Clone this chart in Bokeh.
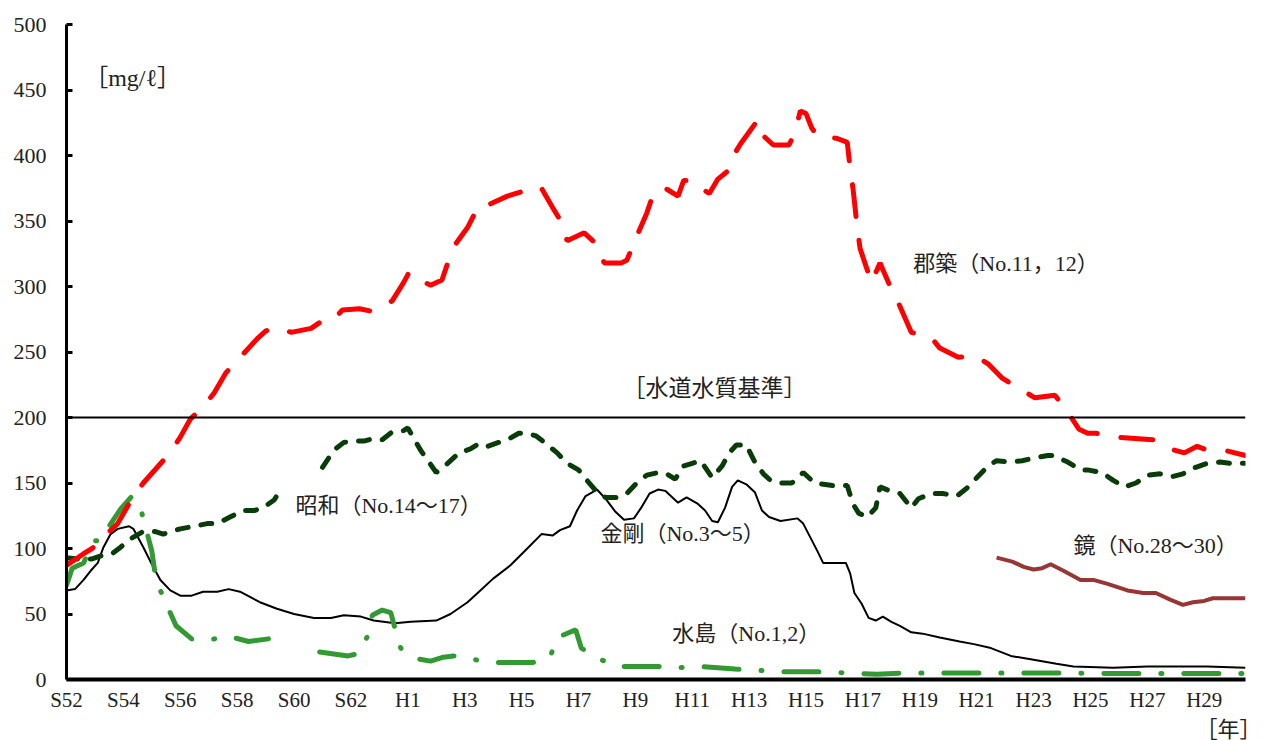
import math
from bokeh.plotting import figure
from bokeh.models import Span, Label, FixedTicker, Range1d, Title
from bokeh.embed import file_html
from bokeh.resources import INLINE

NAN = float("nan")

# x = years since S52 (1977)
x_ticks = list(range(0, 41, 2))
x_tick_labels = ["S52", "S54", "S56", "S58", "S60", "S62", "H1", "H3", "H5", "H7",
                 "H9", "H11", "H13", "H15", "H17", "H19", "H21", "H23", "H25", "H27", "H29"]
y_ticks = list(range(0, 501, 50))
standard_value = 200

# 郡築 (No.11, 12)
gunchiku = [(0, 87), (0.6, 96), (0.9, 100), (1.1, 104), (1.35, 110), (1.8, 119), (2.3, 138),
            (2.7, 150), (3.6, 172), (4.0, 185), (4.36, 199), (4.8, 208), (5.2, 219), (5.6, 234),
            (6.7, 260), (7.0, 266), (7.35, 269), (7.9, 265), (8.6, 268), (9.0, 274), (9.35, 274),
            (9.7, 282), (10.3, 283), (10.75, 281), (11.0, 284), (11.45, 289), (11.85, 303),
            (12.05, 311), (12.4, 305), (12.8, 301), (13.2, 305), (13.5, 324), (13.7, 333),
            (14.1, 345), (14.5, 362), (14.9, 363), (15.5, 369), (16.1, 373), (16.5, 372),
            (16.7, 375), (17.1, 360), (17.4, 349), (17.6, 335), (18.2, 341), (18.7, 331),
            (18.9, 318), (19.5, 318), (19.7, 320), (20.1, 341), (20.4, 356), (20.65, 372),
            (21.05, 375), (21.5, 369), (21.7, 381), (22.0, 381), (22.3, 375), (22.6, 371),
            (22.9, 382), (23.3, 389), (23.45, 400), (23.7, 409), (24.0, 418), (24.3, 427),
            (24.5, 415), (24.85, 408), (25.4, 408), (25.6, 417), (25.8, 434), (26.0, 432),
            (26.2, 421), (26.4, 415), (27.1, 413), (27.45, 410), (27.55, 390), (27.65, 375),
            (27.8, 345), (27.9, 329), (28.3, 303), (28.6, 318), (29.0, 298), (29.3, 285),
            (29.7, 265), (30.4, 261), (30.7, 253), (31.35, 246), (31.95, 247), (32.4, 241),
            (32.9, 230), (33.5, 222), (34.05, 215), (34.75, 217), (35.2, 204), (35.6, 191),
            (35.9, 188), (36.2, 188), (36.9, 185), (38.2, 183), (38.8, 176), (39.3, 173),
            (39.75, 178), (40.0, 176), (40.7, 175), (41.45, 171)]

# 昭和 (No.14～17)
showa = [(0, 93), (0.4, 92), (0.9, 92), (1.3, 95), (1.6, 96), (1.9, 101), (2.3, 108), (2.7, 113),
         (3.1, 113), (3.4, 111), (4.0, 115), (4.5, 117), (4.95, 119), (5.3, 119), (5.75, 124),
         (6.2, 129), (6.6, 129), (6.9, 131), (7.3, 137), (7.5, 144), (8.2, NAN),
         (9.0, 162), (9.4, 175), (9.75, 181), (10.1, 182), (10.45, 182), (10.8, 184), (11.1, 183),
         (11.45, 189), (11.85, 190), (12.0, 192), (12.45, 175), (13.0, 158), (13.25, 162),
         (13.8, 173), (14.2, 176), (14.5, 180), (14.8, 178), (15.2, 181), (15.5, 183),
         (15.9, 188), (16.2, 188), (16.5, 186), (16.8, 181), (17.25, 173), (17.6, 165),
         (18.0, 160), (18.3, 152), (18.65, 143), (18.95, 139), (19.35, 139), (19.7, 142),
         (20.05, 150), (20.4, 156), (20.8, 158), (21.1, 157), (21.4, 153), (21.7, 163),
         (22.0, 165), (22.3, 167), (22.7, 154), (23.05, 163), (23.3, 173), (23.55, 179),
         (23.9, 179), (24.2, 166), (24.5, 157), (24.75, 152), (25.1, 150), (25.5, 150),
         (25.9, 158), (26.3, 150), (26.95, 148), (27.45, 148), (27.65, 134), (27.85, 127),
         (28.15, 124), (28.45, 131), (28.6, 147), (28.95, 144), (29.3, 142), (29.7, 131),
         (29.95, 138), (30.4, 142), (30.8, 142), (31.3, 140), (31.65, 146), (32.0, 154),
         (32.4, 163), (32.7, 167), (33.2, 166), (33.6, 167), (34.0, 169), (34.5, 171),
         (34.7, 171), (35.2, 166), (35.65, 160), (35.9, 160), (36.4, 158), (36.8, 152),
         (37.2, 147), (37.6, 150), (38.0, 156), (38.45, 157), (38.9, 155), (39.25, 157),
         (39.7, 162), (40.1, 165), (40.55, 166), (40.9, 165), (41.4, 165)]

# 金剛 (No.3～5)
kongou = [(0, 68), (0.3, 69), (0.6, 76), (0.85, 83), (1.1, 89), (1.3, 101), (1.55, 111), (1.8, 115),
          (2.2, 117), (2.35, 115), (2.7, 101), (3.0, 88), (3.3, 76), (3.65, 68), (4.0, 64),
          (4.4, 64), (4.8, 67), (5.3, 67), (5.7, 69), (6.1, 67), (6.45, 63), (6.8, 59), (7.4, 54),
          (8.0, 50), (8.7, 47), (9.3, 47), (9.75, 49), (10.35, 48), (10.8, 45), (11.55, 43),
          (12.1, 44), (13.0, 45), (13.5, 50), (14.1, 59), (14.55, 68), (15.0, 77), (15.6, 87),
          (16.2, 100), (16.7, 111), (17.1, 110), (17.35, 114), (17.7, 117), (17.95, 129),
          (18.25, 140), (18.65, 145), (18.95, 138), (19.3, 128), (19.6, 122), (19.95, 123),
          (20.2, 131), (20.5, 142), (20.8, 145), (21.05, 144), (21.5, 135), (21.8, 139),
          (22.2, 134), (22.45, 129), (22.7, 121), (22.9, 120), (23.15, 131), (23.4, 147),
          (23.6, 152), (23.9, 149), (24.2, 143), (24.45, 129), (24.7, 124), (25.1, 121),
          (25.7, 123), (25.9, 119), (26.4, 98), (26.6, 89), (27.4, 89), (27.55, 81), (27.7, 66),
          (27.95, 58), (28.2, 47), (28.45, 45), (28.7, 48), (29.0, 44), (29.3, 41), (29.7, 36),
          (30.1, 35), (30.7, 32), (31.4, 29), (31.9, 27), (32.5, 24), (33.2, 18), (34.0, 15),
          (34.8, 12), (35.4, 10), (36.8, 9), (38.0, 10), (40.1, 10), (41.45, 9)]

# 水島 (No.1, 2)
mizushima = [(0, 72), (0.2, 85), (0.6, 89), (0.95, 106), (1.2, 106), (1.5, 117), (1.9, 130),
             (2.3, 140), (2.65, 127), (3.0, 98), (3.1, 83), (3.3, 68), (3.85, 41), (4.4, 31),
             (5.2, 31), (5.7, 33), (6.4, 29), (7.1, 31), (8.0, NAN), (8.9, 21), (9.9, 18),
             (10.3, 20), (10.6, 34), (10.75, 49), (11.1, 53), (11.4, 51), (11.55, 39), (11.75, 24),
             (12.3, 16), (12.8, 14), (13.25, 17), (13.6, 18), (14.4, 15), (15.1, 13), (16.4, 13),
             (17.0, 17), (17.25, 32), (17.9, 38), (18.1, 24), (18.7, 16), (19.35, 10), (20.8, 10),
             (21.5, 9), (22.2, 10), (23.5, 8), (24.3, 7), (25.0, 6), (26.3, 6), (27.5, 5),
             (28.5, 4), (29.5, 5), (31.0, 5), (33.0, 5), (35.0, 5), (37.0, 4.5), (39.0, 4.5),
             (41.45, 4.5)]

# 鏡 (No.28～30)
kagami = [(32.7, 93), (33.25, 90), (33.65, 86), (34.0, 84), (34.3, 85), (34.6, 88), (35.05, 83),
          (35.65, 76), (36.1, 76), (36.6, 73), (37.3, 68), (37.85, 66), (38.3, 66), (38.8, 61),
          (39.25, 57), (39.6, 59), (40.0, 60), (40.3, 62), (41.45, 62)]

FONT = "Liberation Serif, Noto Sans CJK JP"
TXT = "#222222"

p = figure(frame_width=1179, frame_height=655, output_backend="svg", toolbar_location=None,
           x_range=Range1d(0, 41.45), y_range=Range1d(0, 500),
           min_border_left=66, min_border_right=22, min_border_top=24, min_border_bottom=0)
p.outline_line_color = None
p.xgrid.visible = False
p.ygrid.visible = False

p.yaxis.ticker = FixedTicker(ticks=y_ticks)
p.yaxis.axis_line_width = 3
p.yaxis.major_tick_line_width = 3
p.yaxis.major_tick_in = 6
p.yaxis.major_tick_out = 0
p.yaxis.minor_tick_line_color = None
p.yaxis.major_label_text_font = FONT
p.yaxis.major_label_text_font_size = "22px"
p.yaxis.major_label_text_color = TXT
p.yaxis.major_label_standoff = 20

p.xaxis.ticker = FixedTicker(ticks=x_ticks)
p.xaxis.major_label_overrides = {t: lab for t, lab in zip(x_ticks, x_tick_labels)}
p.xaxis.axis_line_width = 4
p.xaxis.major_tick_line_color = None
p.xaxis.major_tick_out = 0
p.xaxis.major_tick_in = 0
p.xaxis.minor_tick_line_color = None
p.xaxis.major_label_text_font = FONT
p.xaxis.major_label_text_font_size = "21px"
p.xaxis.major_label_text_color = TXT
p.xaxis.major_label_standoff = 8

p.add_layout(Title(text="［年］", align="right", text_font=FONT, text_font_size="22px",
                   text_font_style="normal", text_color=TXT, standoff=0, offset=-16), "below")

p.add_layout(Span(location=standard_value, dimension="width", line_color="black", line_width=2))


def xy(series):
    return [a for a, _ in series], [b for _, b in series]


gx, gy = xy(gunchiku)
sx, sy = xy(showa)
kx, ky = xy(kongou)
mx, my = xy(mizushima)
bx, by = xy(kagami)

p.line(kx, ky, line_color="black", line_width=2)
p.line(bx, by, line_color="#953735", line_width=4)
p.line(mx, my, line_color="#339933", line_width=5, line_dash="35 22 1 22", line_cap="round")
p.line(sx, sy, line_color="#0a3c0a", line_width=5, line_dash="11 13", line_cap="round")
p.line(gx, gy, line_color="#ff0000", line_width=5, line_dash="32 24", line_cap="round")

labels = [
    ("郡築（No.11，12）", 29.77, 317.6, "22px"),
    ("昭和（No.14～17）", 8.05, 132.8, "22px"),
    ("金剛（No.3～5）", 18.77, 111.5, "22px"),
    ("鏡（No.28～30）", 35.4, 102.3, "22px"),
    ("水島（No.1,2）", 21.3, 35.1, "22px"),
    ("［水道水質基準］", 19.55, 222.0, "23px"),
    ("［mg/ℓ］", 0.62, 459.5, "24px"),
]
for t, lx, ly, fs in labels:
    p.add_layout(Label(x=lx, y=ly, text=t, text_font=FONT, text_font_size=fs,
                       text_color=TXT, text_align="left", text_baseline="middle"))

open("out.html", "w").write(file_html(p, INLINE))
